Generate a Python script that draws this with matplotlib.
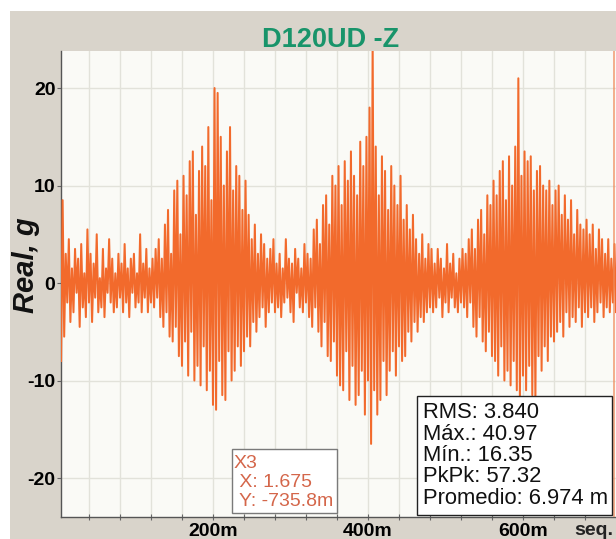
import numpy as np
import matplotlib
matplotlib.use("Agg")
import matplotlib.pyplot as plt
from matplotlib.patches import Rectangle

# ---------------- data ----------------
title = "D120UD -Z"
y_label = "Real, g"
x_unit = "seq."
sample_start_ms = 4.0
sample_step_ms = 2.0
# acceleration peaks (g), one row = 40 ms
signal_g = [
    -8.0, 8.5, -5.5, 3.0, -2.0, 4.5, -4.0, 1.5, -3.0, 3.5, -1.0, 2.5, -4.5, 4.0, -2.5, 1.0, -3.5, 5.5, -2.0, 3.0,
    -4.0, 2.0, -1.5, 5.0, -3.0, 0.5, -2.5, 3.5, -3.5, 1.5, -1.0, 4.5, -2.0, 2.5, -3.0, 1.0, -2.5, 3.0, -1.5, 2.0,
    -3.0, 4.0, -2.0, 1.5, -3.5, 2.5, -1.0, 3.0, -2.5, 1.0, -2.0, 5.0, -3.0, 2.0, -1.5, 3.5, -3.0, 1.5, -2.0, 2.5,
    -2.5, 3.5, -1.5, 4.5, -3.5, 2.5, -4.5, 6.0, -3.0, 7.5, -5.5, 3.0, -6.0, 9.5, -4.5, 10.5, -7.5, 5.0, -8.5, 11.0,
    -6.0, 9.0, -9.5, 12.5, -5.0, 13.5, -10.0, 7.0, -8.5, 11.5, -10.5, 14.0, -6.5, 12.0, -11.0, 16.0, -9.0, 8.5, -12.5, 20.0,
    -13.0, 19.5, -8.0, 15.0, -11.5, 10.0, -12.0, 13.5, -7.0, 16.0, -10.0, 9.5, -9.0, 12.0, -6.5, 11.0, -8.5, 7.5, -7.0, 10.5,
    -5.5, 7.0, -6.5, 4.5, -4.0, 6.0, -5.0, 3.0, -3.5, 5.0, -2.5, 4.0, -4.5, 2.5, -3.0, 3.5, -2.0, 4.5, -3.0, 2.0,
    -2.5, 3.0, -3.5, 1.5, -2.0, 4.5, -1.5, 2.5, -3.0, 2.0, -4.0, 3.5, -1.0, 2.5, -2.5, 1.5, -3.0, 4.0, -2.0, 3.0,
    -3.5, 2.5, -4.5, 5.5, -2.5, 6.5, -5.0, 4.0, -6.5, 8.0, -4.0, 9.0, -7.5, 6.0, -8.0, 11.0, -6.0, 10.0, -9.5, 12.0,
    -10.5, 8.0, -11.0, 12.5, -7.0, 10.5, -12.0, 13.5, -8.5, 11.0, -12.5, 9.0, -11.5, 14.5, -9.0, 12.0, -13.5, 15.0, -10.0, 18.0,
    -16.5, 25.0, -11.0, 14.0, -13.5, 9.0, -12.0, 13.0, -8.0, 11.5, -11.5, 7.5, -9.0, 12.0, -7.0, 10.0, -9.5, 8.0, -6.5, 11.0,
    -8.0, 6.5, -7.5, 8.0, -5.0, 5.5, -6.0, 7.0, -4.0, 4.5, -5.0, 3.0, -3.5, 5.0, -4.0, 2.5, -3.0, 4.0, -2.5, 3.5,
    -3.0, 2.0, -2.5, 3.5, -1.5, 2.5, -3.5, 1.5, -2.0, 4.0, -3.0, 2.0, -1.5, 3.0, -2.5, 1.0, -3.0, 2.5, -2.0, 3.5,
    -2.5, 3.0, -3.5, 4.5, -2.0, 5.5, -4.5, 3.5, -5.5, 6.5, -3.5, 7.5, -6.0, 5.0, -7.0, 9.0, -5.0, 8.0, -7.5, 10.5,
    -8.0, 9.0, -9.5, 11.5, -6.5, 12.5, -10.0, 8.5, -9.0, 13.0, -10.5, 10.0, -8.0, 14.0, -11.0, 21.0, -12.0, 11.0, -9.5, 13.5,
    -11.0, 12.5, -8.5, 13.0, -11.5, 9.5, -12.0, 11.5, -7.5, 12.0, -9.0, 10.0, -6.5, 9.5, -8.0, 10.5, -5.5, 8.0, -6.0, 9.5,
    -5.0, 10.0, -4.0, 7.0, -5.5, 9.0, -3.0, 6.5, -4.5, 8.5, -3.5, 5.0, -4.0, 7.5, -2.5, 6.0, -4.5, 5.5, -3.0, 6.5,
    -3.5, 5.0, -2.5, 6.0, -4.0, 3.5, -3.0, 5.5, -2.0, 4.5, -3.5, 3.0, -2.5, 4.5, -3.0, 2.5, -2.0, 4.0, -3.0, 3.5,
]
x_grid_step = 0.04
x_tick_values = [0.2, 0.4, 0.6]
x_tick_labels = ["200m", "400m", "600m"]
y_tick_values = [-20, -10, 0, 10, 20]
y_tick_labels = ["-20", "-10", "0", "10", "20"]
x_limits = (0.0039, 0.720)
y_limits = (-24.0, 23.8)
stats_lines = ["RMS: 3.840", "Máx.: 40.97", "Mín.: 16.35", "PkPk: 57.32", "Promedio: 6.974 m"]
cursor_lines = ["X3", " X: 1.675", " Y: -735.8m"]
cursor_x = 0.718

# ---------------- drawing ----------------
W, H = 616, 539
plt.rcParams['font.family'] = ['Liberation Sans', 'DejaVu Sans']
fig = plt.figure(figsize=(W / 100, H / 100), dpi=100)
fig.patch.set_facecolor('#d9d4cb')

def fx(px):
    return px / W

def fy(py):
    return 1 - py / H

# white margins at top and left
fig.patches.append(Rectangle((0, fy(11)), 1, 11 / H, transform=fig.transFigure,
                             facecolor='white', edgecolor='none', zorder=0))
fig.patches.append(Rectangle((0, 0), 10 / W, 1, transform=fig.transFigure,
                             facecolor='white', edgecolor='none', zorder=0))

ax = fig.add_axes([fx(61), fy(517), fx(616) - fx(61), fy(51) - fy(517)])
ax.set_facecolor('#fafaf6')

t = (sample_start_ms + sample_step_ms * np.arange(len(signal_g))) / 1000.0
ax.plot(t, signal_g, color='#f26a2c', lw=1.45, zorder=3)
ax.axvline(cursor_x, color='#f08a5a', lw=1.2, alpha=0.8, zorder=4)

ax.set_xlim(*x_limits)
ax.set_ylim(*y_limits)

grid_ticks = np.round(np.arange(x_grid_step, x_limits[1], x_grid_step), 4)
ax.set_xticks(grid_ticks)
xlabels = []
for v in grid_ticks:
    lab = ""
    for k, s in zip(x_tick_values, x_tick_labels):
        if abs(v - k) < 1e-6:
            lab = s
    xlabels.append(lab)
ax.set_xticklabels(xlabels)
ax.set_yticks(y_tick_values)
ax.set_yticklabels(y_tick_labels)

ax.grid(True, color='#e2e2da', lw=1.0, zorder=0)
ax.set_axisbelow(True)
for s in ['top', 'right']:
    ax.spines[s].set_visible(False)
for s in ['left', 'bottom']:
    ax.spines[s].set_color('#555555')
    ax.spines[s].set_linewidth(1.0)

ax.tick_params(axis='x', direction='inout', length=4, width=0.8, color='#666666', pad=2,
               labelsize=14)
ax.tick_params(axis='y', direction='out', length=3, width=0.8, color='#666666', pad=1,
               labelsize=14)
for lab in ax.get_xticklabels() + ax.get_yticklabels():
    lab.set_fontweight('bold')

# title and axis labels
fig.text(fx(331), fy(47), title, ha='center', va='baseline', fontsize=19.5,
         fontweight='bold', color='#18946a')
fig.text(fx(26), fy(265), y_label, ha='center', va='center', rotation=90,
         fontsize=21, fontweight='bold', fontstyle='italic', color='#111111')
fig.text(fx(574), fy(535), x_unit, ha='left', va='baseline', fontsize=14,
         fontweight='bold', color='#222222')

# stats box
fig.patches.append(Rectangle((fx(417), fy(515)), fx(612) - fx(417), fy(396) - fy(515),
                             transform=fig.transFigure, facecolor='white',
                             edgecolor='#222222', lw=1.0, zorder=5))
for i, line in enumerate(stats_lines):
    fig.text(fx(423), fy(413 + 21.3 * i), line, ha='left', va='center', fontsize=15.8,
             color='#111111', zorder=6)

# cursor readout box
fig.patches.append(Rectangle((fx(232), fy(513)), fx(337) - fx(232), fy(449) - fy(513),
                             transform=fig.transFigure, facecolor='white',
                             edgecolor='#7a7a7a', lw=1.0, zorder=5))
for i, line in enumerate(cursor_lines):
    fig.text(fx(234), fy(464 + 18.5 * i), line, ha='left', va='center', fontsize=14,
             color='#d4664a', zorder=6)

fig.savefig('out.png', dpi=100, facecolor=fig.get_facecolor())
